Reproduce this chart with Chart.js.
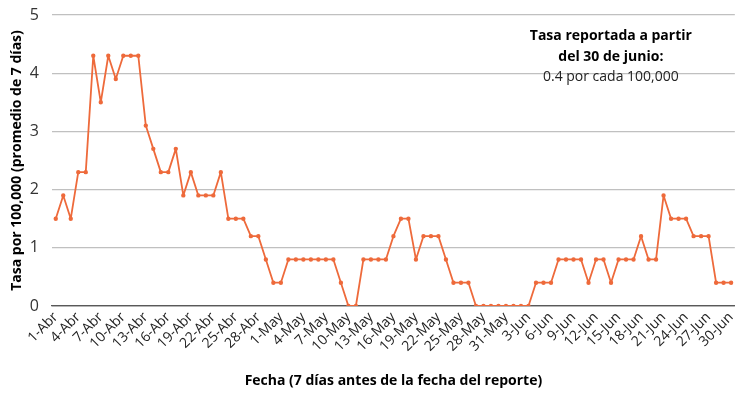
<!DOCTYPE html>
<html>
<head>
<meta charset="utf-8">
<script src="https://cdn.jsdelivr.net/npm/chart.js@4.4.1/dist/chart.umd.min.js"></script>
<style>
  html, body { margin: 0; padding: 0; background: #fff; }
  #wrap { width: 746px; height: 414px; }
</style>
</head>
<body>
<div id="wrap"><canvas id="c" width="746" height="414"></canvas></div>
<script>
/* DATA */
const months = [["Abr", 30], ["May", 31], ["Jun", 30]];
const aprRate = [1.5,1.9,1.5,2.3,2.3,4.3,3.5,4.3,3.9,4.3,4.3,4.3,3.1,2.7,2.3,2.3,2.7,1.9,2.3,1.9,
                 1.9,1.9,2.3,1.5,1.5,1.5,1.2,1.2,0.8,0.4];
const mayRate = [0.4,0.8,0.8,0.8,0.8,0.8,0.8,0.8,0.4,0,0,0.8,0.8,0.8,0.8,1.2,1.5,1.5,0.8,1.2,
                 1.2,1.2,0.8,0.4,0.4,0.4,0,0,0,0,0];
const junRate = [0,0,0,0.4,0.4,0.4,0.8,0.8,0.8,0.8,0.4,0.8,0.8,0.4,0.8,0.8,0.8,1.2,0.8,0.8,
                 1.9,1.5,1.5,1.5,1.2,1.2,1.2,0.4,0.4,0.4];
const yTicks = [0, 1, 2, 3, 4, 5];
const noteLines = ["Tasa reportada a partir", "del 30 de junio:", "0.4 por cada 100,000"];

/* CATEGORIES */
var labels = [];
months.forEach(function(m){
  for (var d = 1; d <= m[1]; d++) labels.push(d + "-" + m[0]);
});
var values = aprRate.concat(mayRate, junRate);

const FONT = "'Open Sans', 'Noto Sans', sans-serif";
const lineColor = "#EE6A3B";

/* NOTE TEXT INSIDE PLOT */
const notePlugin = {
  id: "note",
  afterDraw: function(chart){
    var ctx = chart.ctx, a = chart.chartArea;
    var cx = a.right - 124;
    ctx.save();
    ctx.fillStyle = "#000";
    ctx.textAlign = "center";
    ctx.textBaseline = "middle";
    ctx.font = "bold 14px " + FONT;
    ctx.fillText(noteLines[0], cx, a.top + 21);
    ctx.fillText(noteLines[1], cx, a.top + 42);
    ctx.font = "14px " + FONT;
    ctx.fillStyle = "#222";
    ctx.fillText(noteLines[2], cx, a.top + 62);
    ctx.restore();
  }
};

new Chart(document.getElementById("c"), {
  type: "line",
  data: {
    labels: labels,
    datasets: [{
      data: values,
      borderColor: lineColor,
      backgroundColor: lineColor,
      borderWidth: 1.8,
      borderJoinStyle: "round",
      pointRadius: 1.3,
      pointHoverRadius: 1.3,
      tension: 0
    }]
  },
  options: {
    responsive: false,
    animation: false,
    layout: { padding: { top: 15, right: 5, bottom: 25, left: 9 } },
    plugins: {
      legend: { display: false },
      tooltip: { enabled: false }
    },
    scales: {
      x: {
        offset: true,
        afterFit: function(axis){ axis.height = 83; },
        grid: { display: false, drawTicks: false },
        border: { color: "#595959", width: 1.2 },
        ticks: {
          autoSkip: false,
          maxRotation: 45,
          minRotation: 45,
          padding: 3,
          color: "#222",
          font: { family: FONT, size: 14 },
          callback: function(v, i){ return i % 3 === 0 ? labels[i] : ""; }
        },
        title: {
          display: true,
          text: "Fecha (7 días antes de la fecha del reporte)",
          color: "#000",
          font: { family: FONT, size: 14, weight: "bold" },
          padding: { top: 10, bottom: 0 }
        }
      },
      y: {
        min: 0,
        max: 5,
        afterFit: function(axis){
          axis.width = 43;
          axis.paddingTop = 0;
          axis.paddingBottom = 0;
        },
        afterBuildTicks: function(axis){
          axis.ticks = yTicks.map(function(v){ return { value: v }; });
        },
        grid: {
          color: function(c){ return c.tick.value === 0 ? "#595959" : "#c0c0c0"; },
          lineWidth: 1.2,
          drawTicks: false
        },
        border: { display: false },
        ticks: {
          padding: 13,
          color: "#333",
          font: { family: FONT, size: 16 }
        },
        title: {
          display: true,
          text: "Tasa por 100,000 (promedio de 7 días)",
          color: "#000",
          font: { family: FONT, size: 14, weight: "bold" },
          padding: { top: 0, bottom: 4 }
        }
      }
    }
  },
  plugins: [notePlugin]
});
</script>
</body>
</html>
